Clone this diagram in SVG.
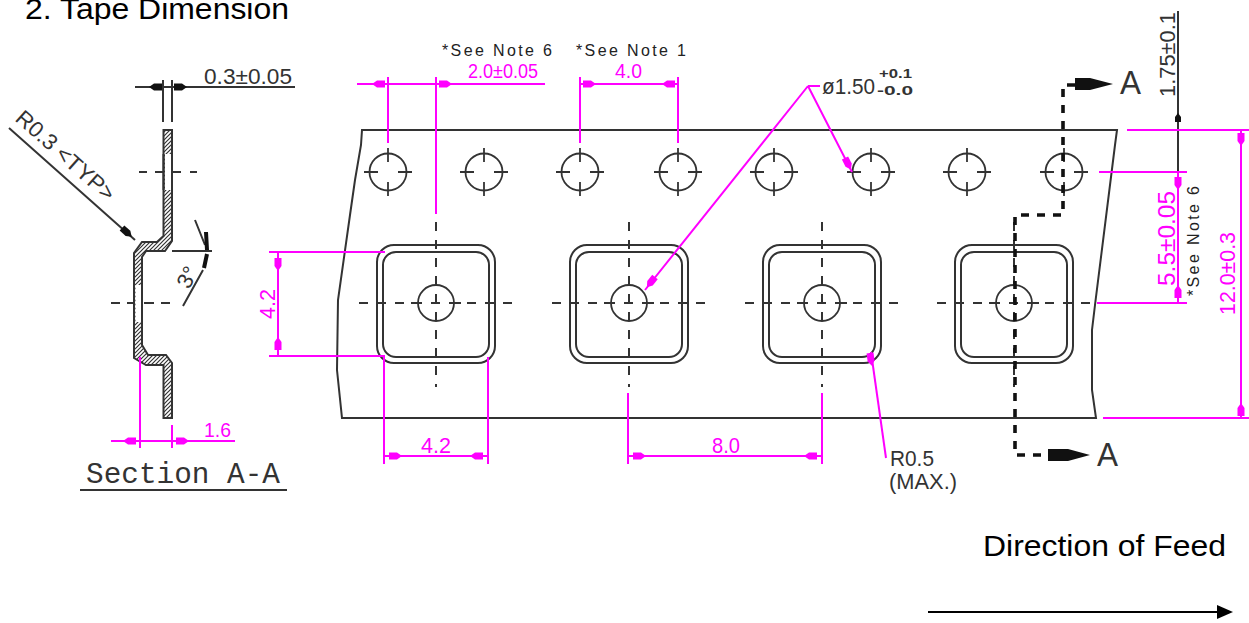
<svg xmlns="http://www.w3.org/2000/svg" width="1249" height="623" viewBox="0 0 1249 623">
<style>
.k{fill:none;stroke:#333;stroke-width:2}
.c{fill:none;stroke:#333;stroke-width:1.8}
.d{fill:none;stroke:#333;stroke-width:2;stroke-dasharray:9 9}
.m{fill:none;stroke:#f0f;stroke-width:2}
.s{fill:none;stroke:#111;stroke-width:3.600;stroke-dasharray:8 8}
.ah{fill:#f0f;stroke:none}
.ak{fill:#111;stroke:none}
text{font-family:"Liberation Sans",Arial,sans-serif}
.cad{fill:#333;font-size:22px}
.cm{fill:#f0f;font-size:22px}
.sm{font-size:20px}
.note{fill:#222;font-size:16px}
.big{fill:#000;font-size:29.500px}
.mono{font-family:"Liberation Mono","Liberation Sans",monospace;font-size:30px}
</style>
<defs>
<pattern id="h" width="4" height="4" patternUnits="userSpaceOnUse"><path d="M-1 1L1 -1M0 4L4 0M3 5L5 3" stroke="#333" stroke-width="1.200"/></pattern>
<g id="hole"><circle r="18.500" class="c"/><path d="M-24 0H-10M10 0H24M0 -24V-10M0 10V24" class="c"/></g>
<g id="pocket"><rect x="-59" y="-58" width="118" height="118" rx="17" class="k"/><rect x="-53" y="-51" width="106" height="105" rx="13" class="k"/><circle r="18" class="c"/><path d="M-25 0H-18M18 0H25" class="c"/><path d="M-77 0H77" class="d"/><path d="M0 -81V84" class="d"/></g>
<path id="ar" d="M0 -3.500L8 -3.500L13 0L8 3.500L0 3.500Z"/>
</defs>

<text class="big" x="25" y="19" textLength="264" lengthAdjust="spacingAndGlyphs">2. Tape Dimension</text>
<text class="big" x="983" y="556" textLength="243" lengthAdjust="spacingAndGlyphs">Direction of Feed</text>
<g id="feed-arrow"><path d="M928 612H1220" stroke="#000" stroke-width="2" fill="none"/><path d="M1233 612L1217 605V619Z" fill="#000"/></g>

<g id="section">
<path d="M163.500 130H172V241L165 251H146L142 257V345L148 355H166L172 363V418H163.500V365H146L134 358V253L142 242H157L163.500 236Z" fill="url(#h)" stroke="#333" stroke-width="2"/>
<rect x="165" y="154" width="6" height="36" fill="#fff"/>
<path d="M163.500 154V190M172 154V190" class="k"/>
<rect x="135.500" y="285" width="5.500" height="37" fill="#fff"/>
<path d="M134 285V322M142 285V322" class="k"/>
<path d="M139 172H147M155 172H163M172 172H181M190 172H197M111 303H120M127 303H134M144 303H154M161 303H170" class="k"/>
<path d="M172 251H212" class="k"/>
<path d="M135 87H295M163 80V122M172 80V122" class="k"/>
<g class="ak"><use href="#ar" transform="translate(162 87) rotate(180)"/><use href="#ar" transform="translate(174 87)"/></g>
<text class="cad" x="204" y="84" textLength="88" lengthAdjust="spacingAndGlyphs">0.3±0.05</text>
<path d="M9 128L135 240" class="k"/>
<use href="#ar" class="ak" transform="translate(122 228) rotate(41.600)"/>
<text class="cad" transform="translate(14 120) rotate(41.600)" textLength="124" lengthAdjust="spacingAndGlyphs">R0.3 &lt;TYP&gt;</text>
<path d="M195 220L205 245M183 306L203 270" class="k"/>
<path d="M206 232L207 250M207 254L204 268" stroke="#111" stroke-width="4" fill="none"/>
<text class="cad" transform="translate(189 290) rotate(-62)">3°</text>
<path d="M140 357V448M172 425V448M111 441H235" class="m"/>
<g class="ah"><use href="#ar" transform="translate(136 441) rotate(180)"/><use href="#ar" transform="translate(176 441)"/></g>
<text class="cm sm" x="204" y="437" textLength="27" lengthAdjust="spacingAndGlyphs">1.6</text>
<text class="cad mono" x="86" y="483" textLength="194" lengthAdjust="spacingAndGlyphs">Section A-A</text>
<path d="M80 490H287" stroke="#333" stroke-width="2" fill="none"/>
</g>

<g id="tape">
<path d="M362 130H1117L1115 145L1095 305L1092 330V390L1096 418H342L337 370L338 300L350 215L355 180L361 145Z" class="k"/>
<g id="sprocket-holes">
<use href="#hole" x="388" y="172"/><use href="#hole" x="484" y="172"/><use href="#hole" x="580" y="172"/><use href="#hole" x="678" y="172"/><use href="#hole" x="774" y="172"/><use href="#hole" x="871" y="172"/><use href="#hole" x="967" y="172"/><use href="#hole" x="1064" y="172"/>
</g>
<g id="pockets">
<use href="#pocket" x="436" y="303"/><use href="#pocket" x="629" y="303"/><use href="#pocket" x="822" y="303"/><use href="#pocket" x="1014" y="303"/>
</g>
</g>

<g id="section-line">
<path d="M1075 85H1063V215H1015V455H1050" class="s"/>
<path d="M1075 78H1090L1113 84L1090 90H1075Z" class="ak"/>
<path d="M1048 449H1068L1090 455L1068 461H1048Z" class="ak"/>
<text class="cad" x="1120" y="94" style="font-size:33px" textLength="21" lengthAdjust="spacingAndGlyphs">A</text>
<text class="cad" x="1097" y="466" style="font-size:33px" textLength="21" lengthAdjust="spacingAndGlyphs">A</text>
</g>

<g id="dimensions">
<path d="M357 84H545M388 77V143M436 77V214M580 77V143M678 77V143M580 84H678" class="m"/>
<g class="ah"><use href="#ar" transform="translate(385 84) rotate(180)"/><use href="#ar" transform="translate(439 84)"/><use href="#ar" transform="translate(583 84)"/><use href="#ar" transform="translate(675 84) rotate(180)"/></g>
<text class="cm sm" x="468" y="78" textLength="70" lengthAdjust="spacingAndGlyphs">2.0±0.05</text>
<text class="cm sm" x="615" y="78" textLength="27" lengthAdjust="spacingAndGlyphs">4.0</text>
<text class="note" x="442" y="56" textLength="110" lengthAdjust="spacing">*See Note 6</text>
<text class="note" x="576" y="56" textLength="110" lengthAdjust="spacing">*See Note 1</text>

<path d="M808 86H820M808 86L645 290M808 86L852 172" class="m"/>
<g class="ah"><use href="#ar" transform="translate(655 277) rotate(128.600)"/><use href="#ar" transform="translate(845 158) rotate(63)"/></g>
<text class="cad" x="822" y="94" textLength="53" lengthAdjust="spacingAndGlyphs">ø1.50</text>
<text class="cad" x="879" y="78" style="font-size:13px;font-weight:bold" textLength="33" lengthAdjust="spacingAndGlyphs">+0.1</text>
<text class="cad" x="877" y="95" style="font-size:13px;font-weight:bold" textLength="36" lengthAdjust="spacingAndGlyphs">-0.0</text>

<path d="M269 252H385M269 356H385M278 252V356" class="m"/>
<g class="ah"><use href="#ar" transform="translate(278 258) rotate(90)"/><use href="#ar" transform="translate(278 350) rotate(-90)"/></g>
<text class="cm" transform="translate(275 319) rotate(-90)" textLength="30" lengthAdjust="spacingAndGlyphs">4.2</text>

<path d="M384 357V464M488 357V464M384 456H488" class="m"/>
<g class="ah"><use href="#ar" transform="translate(389 456)"/><use href="#ar" transform="translate(483 456) rotate(180)"/></g>
<text class="cm" x="421" y="453" textLength="30" lengthAdjust="spacingAndGlyphs">4.2</text>

<path d="M628 393V464M822 393V464M628 456H822" class="m"/>
<g class="ah"><use href="#ar" transform="translate(633 456)"/><use href="#ar" transform="translate(817 456) rotate(180)"/></g>
<text class="cm" x="712" y="453" textLength="28" lengthAdjust="spacingAndGlyphs">8.0</text>

<path d="M871 352L886 458" class="m"/>
<use href="#ar" class="ah" transform="translate(870 353) rotate(82)"/>
<text class="cad" x="890" y="466" textLength="44" lengthAdjust="spacingAndGlyphs">R0.5</text>
<text class="cad" x="889" y="489" textLength="68" lengthAdjust="spacingAndGlyphs">(MAX.)</text>

<path d="M1178 11V172" class="k"/>
<path d="M1178 113L1181 117V122H1175V117Z" class="ak"/>
<path d="M1127 130H1249M1099 172H1187M1097 303H1187M1103 418H1249M1178 172V303M1241 130V418" class="m"/>
<g class="ah"><use href="#ar" transform="translate(1178 177) rotate(90)"/><use href="#ar" transform="translate(1178 298) rotate(-90)"/><use href="#ar" transform="translate(1241 133) rotate(90)"/><use href="#ar" transform="translate(1241 416) rotate(-90)"/></g>
<text class="cad" transform="translate(1175 97) rotate(-90)" textLength="85" lengthAdjust="spacingAndGlyphs">1.75±0.1</text>
<text class="cm" transform="translate(1175 286) rotate(-90)" style="font-size:24px" textLength="95" lengthAdjust="spacingAndGlyphs">5.5±0.05</text>
<text class="note" transform="translate(1199 296) rotate(-90)" textLength="110" lengthAdjust="spacing">*See Note 6</text>
<text class="cm" transform="translate(1235 315) rotate(-90)" textLength="83" lengthAdjust="spacingAndGlyphs">12.0±0.3</text>
</g>
</svg>
